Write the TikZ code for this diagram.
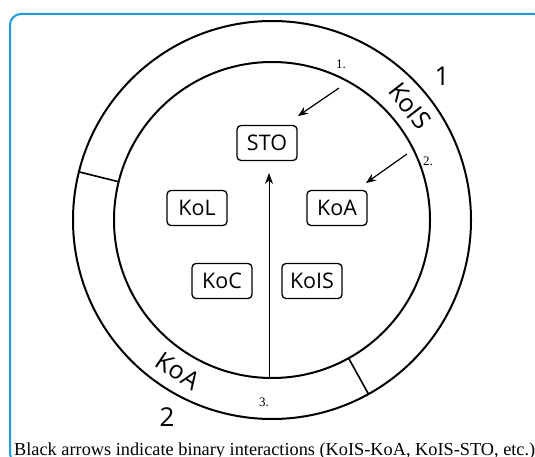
\documentclass[tikz,border=0pt]{standalone}
\usepackage{fontspec}
\setmainfont{Liberation Serif}
\newfontfamily\boxfont{Open Sans}
\usetikzlibrary{arrows.meta,calc}
\definecolor{framecol}{RGB}{30,158,215}
\tikzset{
  kbox/.style={draw, line width=1.3pt, rounded corners=4pt, minimum width=60pt, minimum height=35pt, inner sep=0pt, font=\boxfont\fontsize{21.5}{21.5}\selectfont},
  ring/.style={line width=2pt},
  ringlbl/.style={font=\boxfont\fontsize{25}{25}\selectfont, inner sep=0pt},
  numlbl/.style={font=\boxfont\fontsize{26}{26}\selectfont, inner sep=0pt},
  small/.style={font=\fontsize{13}{13}\selectfont, inner sep=0pt},
  arr/.style={line width=1.2pt, -{Stealth[length=10pt,width=8pt]}},
}
\begin{document}
\begin{tikzpicture}[x=1pt,y=-1pt]
\useasboundingbox (0,0) rectangle (535,457);
\fill[white] (0,0) rectangle (535,457);
\begin{scope}
\clip (0,0) rectangle (535,457);
\draw[framecol, line width=2pt, rounded corners=11pt] (10,14) rectangle (545,464);
\end{scope}
\coordinate (c) at (272,220);
\draw[ring] (c) circle[radius=199];
\draw[ring] (c) circle[radius=158];
\draw[line width=1.6pt] ($(c)+(-166:158)$) coordinate (d1a) -- ($(c)+(-166:199)$) coordinate (d1b);
\draw[line width=1.6pt] ($(c)+(61:158)$) coordinate (d2a) -- ($(c)+(61:199)$) coordinate (d2b);
% boxes
\node[kbox] (sto) at (267,143) {STO};
\node[kbox] (kol) at (197,208) {KoL};
\node[kbox] (koa) at (337,208) {KoA};
\node[kbox] (koc) at (222,281) {KoC};
\node[kbox] (kois) at (312,281) {KoIS};
% ring labels
\node[ringlbl, rotate=-52] (rkois) at (410,106) {KoIS};
\node[ringlbl, rotate=-34] (rkoa) at (178,371) {KoA};
\node[numlbl] (n1) at (442,76) {1};
\node[numlbl] (n2) at (167,417) {2};
\node[small] (s1) at (341,64) {1.};
\node[small] (s2) at (428,161) {2.};
\node[small] (s3) at (264,402) {3.};
% arrows
\coordinate (a1s) at (339,88);
\coordinate (a1e) at (298,116);
\coordinate (a2s) at (407,154);
\coordinate (a2e) at (366,183);
\coordinate (bot) at (269,377);
\draw[arr] (a1s) -- (a1e);
\draw[arr] (a2s) -- (a2e);
\draw[line width=1pt, -{Stealth[length=11pt,width=8pt]}] (bot) -- (bot |- 0,173);
% caption
\node[anchor=base west, inner sep=0pt, font=\fontsize{18.3}{18.3}\selectfont] (cap) at (14,455) {Black arrows indicate binary interactions (KoIS-KoA, KoIS-STO, etc.)};
\end{tikzpicture}
\end{document}
